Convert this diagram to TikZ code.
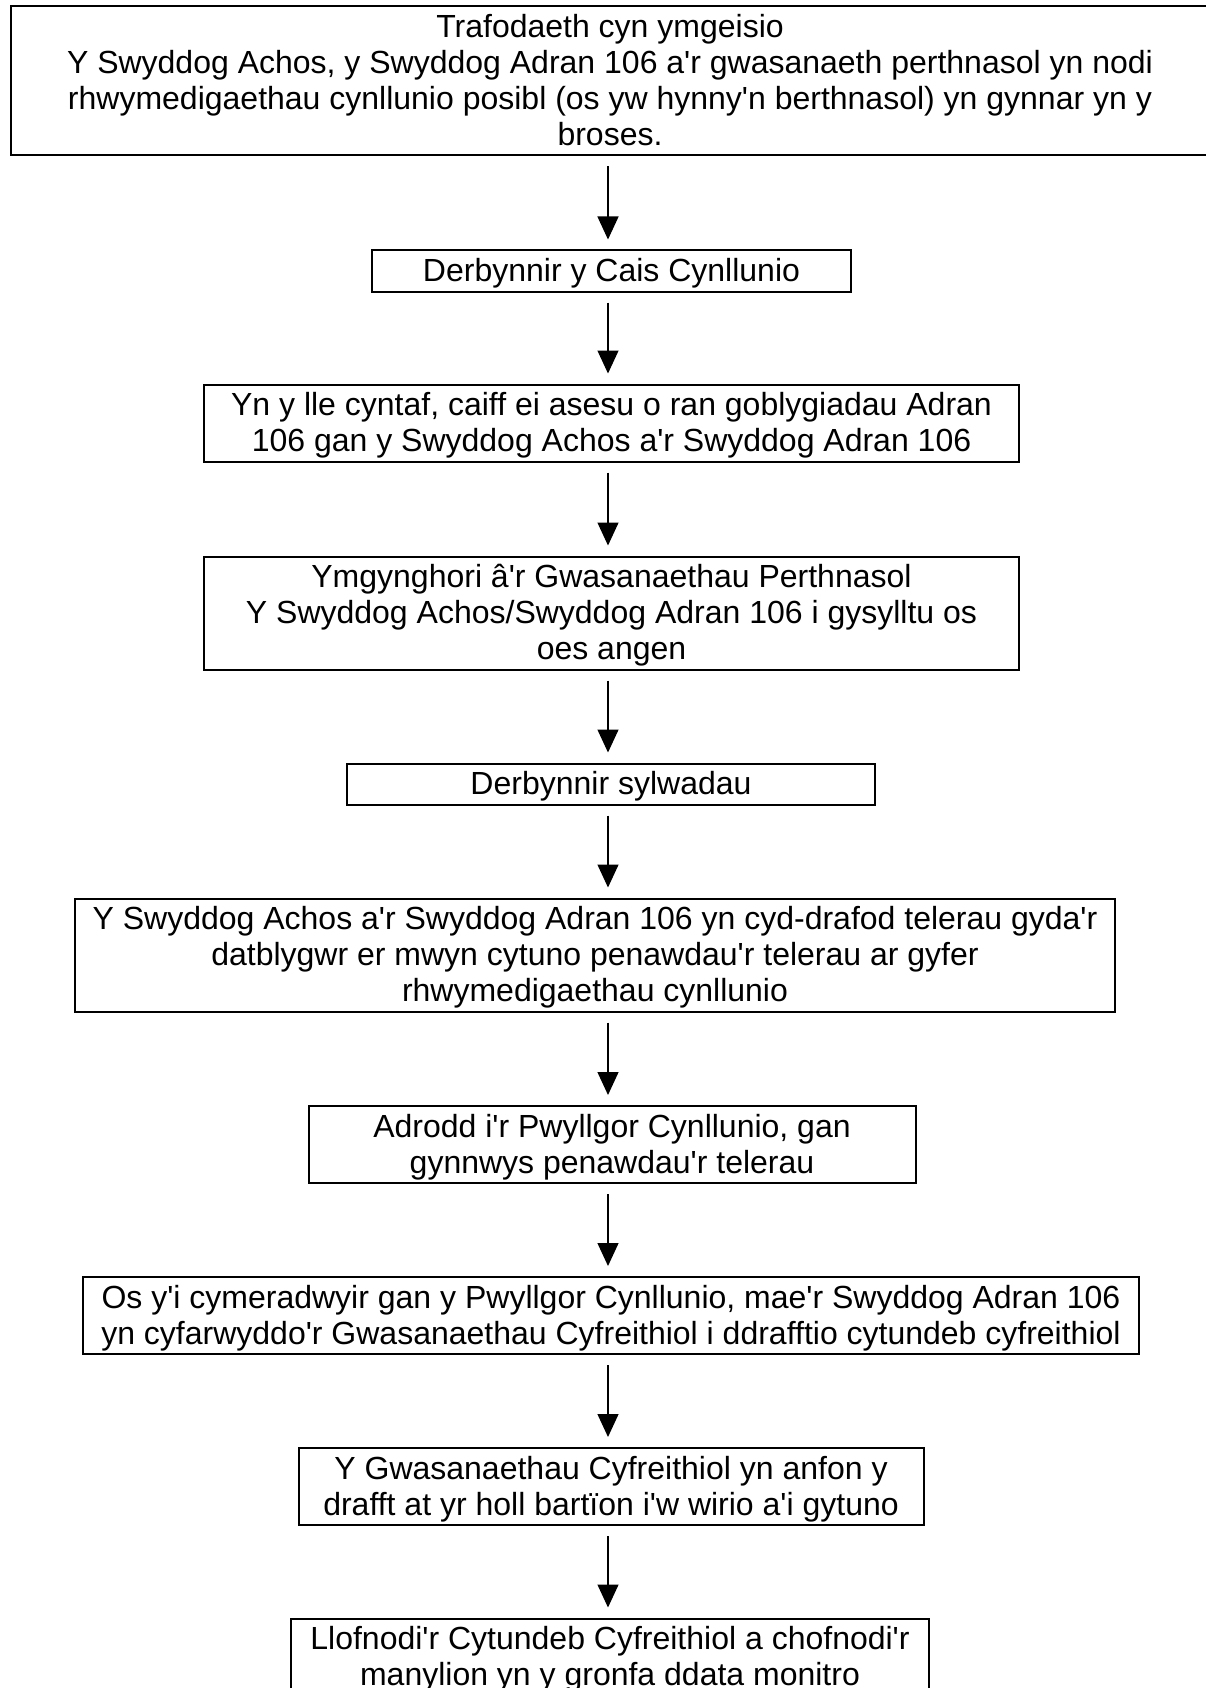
\documentclass[tikz,border=0pt]{standalone}
\usepackage{fontspec}
\setmainfont{Liberation Sans}[Ligatures=TeXOff]
\usetikzlibrary{arrows.meta}
\newcommand\topstrut{\rule{0pt}{31pt}}
\newcommand\botstrut{\rule[-10pt]{0pt}{10pt}}
\begin{document}
\begin{tikzpicture}[x=1pt,y=-1pt,>={Triangle[length=23pt,width=21pt]},
	font=\fontsize{32}{36}\selectfont,
	box/.style={draw,line width=2pt,align=flush center,inner sep=0pt,
		execute at begin node=\topstrut,execute at end node=\botstrut},
	arr/.style={->,line width=1.3pt,shorten <=10pt,shorten >=10pt}]
	\useasboundingbox (0,0) rectangle (1206,1688);
	\coordinate (col) at (608,0);
	\node[box,text width=1198pt,minimum height=148pt] (b1) at (610,81)
		{Trafodaeth cyn ymgeisio\\
		Y Swyddog Achos, y Swyddog Adran 106 a'r gwasanaeth perthnasol yn nodi\\
		rhwymedigaethau cynllunio posibl (os yw hynny'n berthnasol) yn gynnar yn y\\
		broses.};
	\node[box,text width=479pt,minimum height=38pt] (b2) at (611.5,271)
		{Derbynnir y Cais Cynllunio};
	\node[box,text width=815pt,minimum height=76pt] (b3) at (611.5,423)
		{Yn y lle cyntaf, caiff ei asesu o ran goblygiadau Adran\\
		106 gan y Swyddog Achos a'r Swyddog Adran 106};
	\node[box,text width=815pt,minimum height=112pt] (b4) at (611.5,613)
		{Ymgynghori â'r Gwasanaethau Perthnasol\\
		Y Swyddog Achos/Swyddog Adran 106 i gysylltu os\\
		oes angen};
	\node[box,text width=528pt,minimum height=38pt] (b5) at (611,784)
		{Derbynnir sylwadau};
	\node[box,text width=1040pt,minimum height=112pt] (b6) at (595,955)
		{Y Swyddog Achos a'r Swyddog Adran 106 yn cyd-drafod telerau gyda'r\\
		datblygwr er mwyn cytuno penawdau'r telerau ar gyfer\\
		rhwymedigaethau cynllunio};
	\node[box,text width=607pt,minimum height=75pt] (b7) at (612,1144.5)
		{Adrodd i'r Pwyllgor Cynllunio, gan\\
		gynnwys penawdau'r telerau};
	\node[box,text width=1056pt,minimum height=75pt] (b8) at (611,1315.5)
		{Os y'i cymeradwyir gan y Pwyllgor Cynllunio, mae'r Swyddog Adran 106\\
		yn cyfarwyddo'r Gwasanaethau Cyfreithiol i ddrafftio cytundeb cyfreithiol};
	\node[box,text width=625pt,minimum height=75pt] (b9) at (611,1486.5)
		{Y Gwasanaethau Cyfreithiol yn anfon y\\
		drafft at yr holl bartïon i'w wirio a'i gytuno};
	\node[box,text width=638pt,minimum height=75pt] (b10) at (610,1657)
		{Llofnodi'r Cytundeb Cyfreithiol a chofnodi'r\\
		manylion yn y gronfa ddata monitro};
	% arrows down the middle
	\foreach \a/\b in {b1/b2,b2/b3,b3/b4,b4/b5,b5/b6,b6/b7,b7/b8,b8/b9,b9/b10}
		\draw[arr] (\a.south -| col) -- (\b.north -| col);
\end{tikzpicture}
\end{document}
